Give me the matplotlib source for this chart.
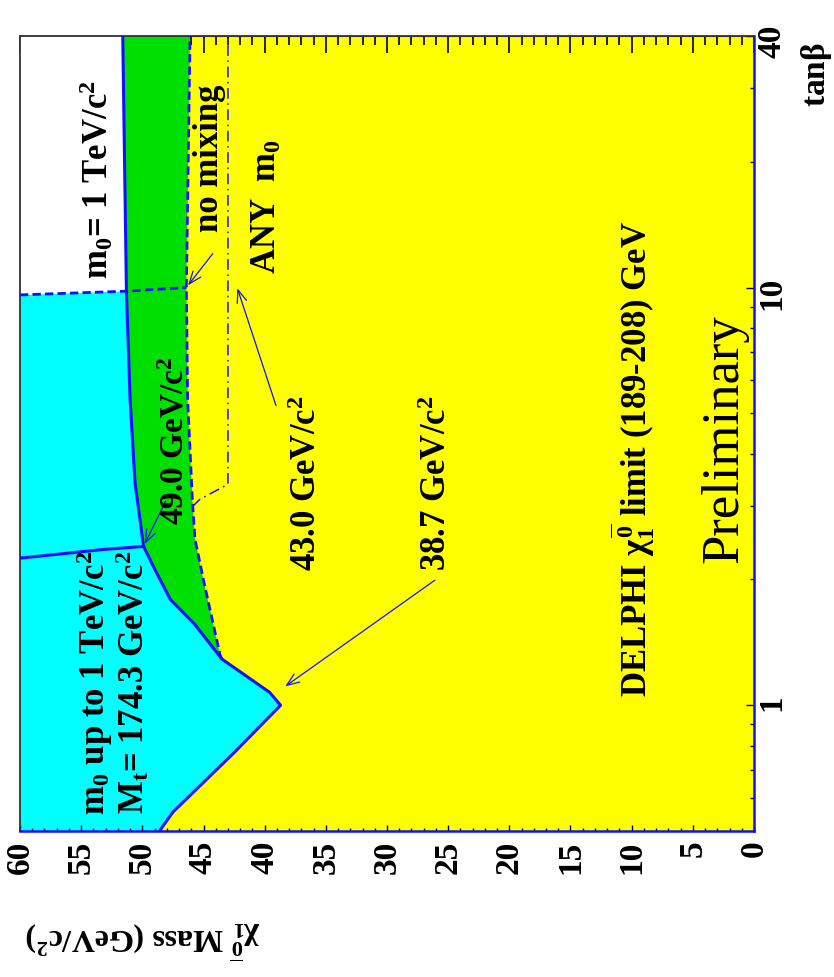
import matplotlib
matplotlib.use("Agg")
import matplotlib.pyplot as plt
from matplotlib.ticker import MultipleLocator, FixedLocator, NullFormatter

plt.rcParams['font.family'] = ['Liberation Serif', 'DejaVu Serif']
plt.rcParams['font.weight'] = 'bold'
plt.rcParams['mathtext.fontset'] = 'custom'
plt.rcParams['mathtext.rm'] = 'Liberation Serif:bold'
plt.rcParams['mathtext.it'] = 'Liberation Serif:bold'
plt.rcParams['mathtext.bf'] = 'Liberation Serif:bold'

# lightest neutralino mass limit (GeV/c^2) vs tan(beta)
# m0 up to 1 TeV, Mt = 174.3 GeV
tanb_solid = [0.5, 0.555, 0.77, 1.0, 1.074, 1.29, 1.56, 1.79, 2.12, 2.40, 3.42, 5.40, 9.8, 40]
mass_solid = [48.6, 47.5, 42.5, 38.7, 39.6, 43.5, 45.7, 47.7, 49.0, 49.9, 50.6, 51.0, 51.3, 51.6]
# no mixing in the stop sector
tanb_nomix = [1.29, 1.32, 1.61, 1.93, 2.5, 3.06, 5.4, 10.0, 40]
mass_nomix = [43.5, 43.65, 44.3, 44.9, 45.7, 45.9, 46.3, 46.4, 46.1]
# any m0
tanb_any = [2.99, 3.11, 3.38, 40]
mass_any = [45.9, 45.3, 43.0, 43.0]
# m0 = 1 TeV boundary
tanb_m0 = [9.6, 9.8, 10.0]
mass_m0 = [60, 51.3, 46.4]
# Mt boundary inside the m0 < 1 TeV region
tanb_mt = [2.25, 2.36, 2.40]
mass_mt = [60, 53.2, 49.9]

BLUE = '#1010ff'
CYAN = '#00ffff'
GREEN = '#00e000'
YELLOW = '#ffff00'

fig = plt.figure(figsize=(8.34, 9.78), dpi=100)
ax = fig.add_axes([20 / 834, 146 / 978, 734 / 834, 795 / 978])
ax.set_facecolor(YELLOW)
ax.set_yscale('log')
ax.set_xlim(60, 0)
ax.set_ylim(0.5, 40)

# filled regions
n_top = len(tanb_solid) - 1
cyan_x = mass_solid[:n_top] + [60, 60]
cyan_y = tanb_solid[:n_top] + [9.6, 0.5]
ax.fill(cyan_x, cyan_y, color=CYAN, lw=0, zorder=1)

white_x = mass_solid[n_top - 1:] + [60, 60]
white_y = tanb_solid[n_top - 1:] + [40, 9.6]
ax.fill(white_x, white_y, color='white', lw=0, zorder=1)

i0 = tanb_solid.index(1.29)
green_x = mass_nomix + mass_solid[i0:][::-1]
green_y = tanb_nomix + tanb_solid[i0:][::-1]
ax.fill(green_x, green_y, color=GREEN, lw=0, zorder=1)

# contour lines
ax.plot(mass_solid, tanb_solid, color=BLUE, lw=2.2, zorder=3)
ax.plot(mass_mt, tanb_mt, color=BLUE, lw=2.2, zorder=3)
ax.plot(mass_nomix, tanb_nomix, color=BLUE, lw=2.0, ls=(0, (3, 1.5)), zorder=3)
ax.plot(mass_m0, tanb_m0, color=BLUE, lw=2.0, ls=(0, (3, 1.5)), zorder=3)
ax.plot(mass_any, tanb_any, color=BLUE, lw=1.1, ls=(0, (7, 3, 1, 3)), zorder=3)

# axes and ticks
for side in ('bottom', 'right'):
    ax.spines[side].set_color(BLUE)
    ax.spines[side].set_linewidth(1.8)
for side in ('top', 'left'):
    ax.spines[side].set_color('#333333')
    ax.spines[side].set_linewidth(1.3)

ax.xaxis.tick_bottom()
ax.yaxis.tick_right()
ax.xaxis.set_major_locator(MultipleLocator(5))
ax.xaxis.set_minor_locator(MultipleLocator(1))
ax.set_yticks([1, 10, 40])
ax.set_yticklabels(['1', '10', '40'])
minor_tanb = [0.6, 0.7, 0.8, 0.9, 2, 3, 4, 5, 6, 7, 8, 9, 20, 30]
ax.yaxis.set_minor_locator(FixedLocator(minor_tanb))
ax.yaxis.set_minor_formatter(NullFormatter())
ax.tick_params(axis='x', which='major', direction='in', length=4.5, width=1,
               labelrotation=90, labelsize=24, pad=6)
ax.tick_params(axis='x', which='minor', direction='in', length=2.2, width=1)
ax.tick_params(axis='y', which='major', direction='in', length=6, width=1,
               labelrotation=90, labelsize=24, pad=2)
ax.tick_params(axis='y', which='minor', direction='in', length=3, width=1)

top = ax.secondary_xaxis('top')
top.xaxis.set_major_locator(MultipleLocator(5))
top.xaxis.set_minor_locator(MultipleLocator(1))
top.xaxis.set_major_formatter(NullFormatter())
top.tick_params(which='major', direction='in', length=12.5, width=1.2)
top.tick_params(which='minor', direction='in', length=6.5, width=1.2)
top.spines['top'].set_color('#333333')

left = ax.secondary_yaxis('left')
left.yaxis.set_major_locator(FixedLocator([1, 10]))
left.yaxis.set_minor_locator(FixedLocator(minor_tanb))
left.yaxis.set_major_formatter(NullFormatter())
left.yaxis.set_minor_formatter(NullFormatter())
left.tick_params(which='major', direction='in', length=11, width=1.2)
left.tick_params(which='minor', direction='in', length=6.5, width=1.2)
left.spines['left'].set_color('#333333')

# labels on the plot
txt = dict(rotation=90, ha='center', va='center', zorder=5, fontweight='bold')
ax.text(53.7, 18.2, r'm$_0$= 1 TeV/c$^2$', fontsize=25, **txt)
ax.text(44.5, 20.5, 'no mixing', fontsize=25, **txt)
ax.text(39.8, 15.7, r'ANY  m$_0$', fontsize=25, **txt)
ax.text(47.3, 4.33, r'49.0 GeV/c$^2$', fontsize=24, **txt)
ax.text(36.5, 3.42, r'43.0 GeV/c$^2$', fontsize=25, **txt)
ax.text(25.9, 3.42, r'38.7 GeV/c$^2$', fontsize=25, **txt)
ax.text(53.9, 1.14, r'm$_0$ up to 1 TeV/c$^2$', fontsize=25, **txt)
ax.text(50.8, 1.14, r'M$_t$= 174.3 GeV/c$^2$', fontsize=25, **txt)
ax.text(9.9, 3.9, r'DELPHI $\chi^{\overline{0}}_1$ limit (189-208) GeV', fontsize=25, **txt)
ax.text(2.4, 4.38, 'Preliminary', rotation=90, ha='center', va='center',
        fontsize=38, fontweight='normal', zorder=5)

arrow = dict(arrowstyle='->,head_length=0.9,head_width=0.35', color=BLUE, lw=0.9)
ax.annotate('', xy=(46.4, 10.0), xytext=(44.1, 12.2), arrowprops=arrow, zorder=4)
ax.annotate('', xy=(42.3, 10.1), xytext=(39.0, 5.14), arrowprops=arrow, zorder=4)
ax.annotate('', xy=(49.9, 2.40), xytext=(48.0, 3.12), arrowprops=arrow, zorder=4)
ax.annotate('', xy=(38.5, 1.10), xytext=(25.9, 2.01), arrowprops=arrow, zorder=4)

fig.text(817 / 834, 1 - 75 / 978, r'tan$\beta$', rotation=90, ha='center', va='center',
         fontsize=24, fontweight='bold')
fig.text(143 / 834, 1 - 940 / 978, r'$\chi^{\overline{0}}_1$ Mass (GeV/c$^2$)',
         rotation=180, ha='center', va='center', fontsize=23, fontweight='bold')

fig.savefig('out.png', dpi=100)
